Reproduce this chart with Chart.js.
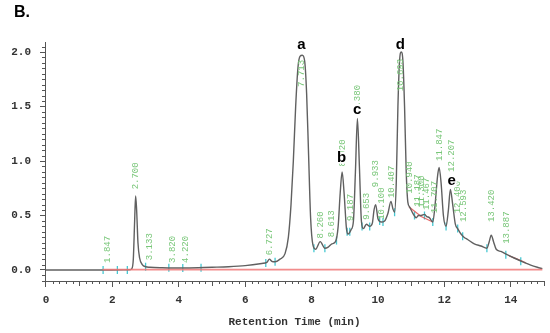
<!DOCTYPE html>
<html>
<head>
<meta charset="utf-8">
<script src="https://cdn.jsdelivr.net/npm/chart.js@4/dist/chart.umd.min.js"></script>
<style>
  html, body { margin: 0; padding: 0; background: #fff; }
  #chrom { display: block; }
</style>
</head>
<body>
<canvas id="chrom" width="550" height="333"></canvas>
<script>
// chromatogram trace (retention time in min, absorbance)
const rtMin = [0.0, 1.0, 2.0, 2.5, 2.58, 2.63, 2.67, 2.70, 2.73, 2.77, 2.82, 2.9, 3.0, 3.13, 3.5, 3.82, 4.22, 5.0, 5.5, 6.0, 6.5, 6.65, 6.73, 6.8, 6.9, 7.05, 7.2, 7.3, 7.38, 7.45, 7.52, 7.59, 7.65, 7.72, 7.79, 7.85, 7.91, 7.97, 8.04, 8.12, 8.26, 8.4, 8.5, 8.61, 8.72, 8.8, 8.86, 8.92, 8.98, 9.05, 9.1, 9.19, 9.26, 9.32, 9.38, 9.44, 9.5, 9.56, 9.65, 9.75, 9.83, 9.88, 9.93, 10.0, 10.1, 10.2, 10.3, 10.39, 10.45, 10.5, 10.55, 10.6, 10.65, 10.7, 10.75, 10.8, 10.85, 10.9, 10.95, 11.05, 11.15, 11.22, 11.3, 11.4, 11.47, 11.55, 11.65, 11.72, 11.79, 11.84, 11.9, 11.97, 12.05, 12.12, 12.18, 12.25, 12.33, 12.4, 12.5, 12.59, 12.7, 12.9, 13.1, 13.28, 13.35, 13.41, 13.48, 13.56, 13.7, 13.89, 14.1, 14.4, 14.6, 14.8, 14.95];
const signal = [0.0, 0.0, 0.0, 0.002, 0.01, 0.1, 0.45, 0.68, 0.55, 0.25, 0.11, 0.05, 0.03, 0.025, 0.02, 0.018, 0.018, 0.025, 0.03, 0.04, 0.06, 0.07, 0.1, 0.08, 0.075, 0.1, 0.15, 0.3, 0.6, 1.0, 1.5, 1.86, 1.96, 1.97, 1.92, 1.62, 1.05, 0.48, 0.23, 0.19, 0.26, 0.2, 0.21, 0.24, 0.26, 0.4, 0.7, 0.9, 0.7, 0.38, 0.33, 0.37, 0.45, 0.9, 1.39, 0.95, 0.45, 0.38, 0.42, 0.4, 0.43, 0.55, 0.6, 0.47, 0.44, 0.45, 0.52, 0.63, 0.56, 0.53, 0.8, 1.5, 1.92, 2.0, 1.92, 1.5, 0.9, 0.62, 0.58, 0.52, 0.48, 0.5, 0.5, 0.51, 0.49, 0.48, 0.44, 0.6, 0.85, 0.94, 0.8, 0.5, 0.4, 0.55, 0.74, 0.6, 0.42, 0.38, 0.33, 0.3, 0.28, 0.24, 0.22, 0.2, 0.26, 0.32, 0.26, 0.19, 0.17, 0.14, 0.11, 0.07, 0.045, 0.025, 0.012];

// integration baseline and baseline segments drawn on the trace
const baseX = [1.7, 14.95];
const baseY = [0.003, 0.003];
const segX = [10.93, 11.3, 11.65, 12.5, 13.95, 14.2, 14.45];
const segY = [0.58, 0.49, 0.44, null, 0.13, 0.1, 0.065];

// peak start/end marks
const markTimes = [1.72, 2.15, 2.45, 3.0, 3.7, 4.12, 4.67, 6.62, 6.9, 8.07, 8.4, 8.75, 9.07, 9.15, 9.52, 9.75, 10.05, 10.15, 10.5, 11.1, 11.4, 11.65, 12.05, 12.4, 12.55, 13.28, 13.85, 14.3];
const markLevels = [0.0, 0.0, 0.0, 0.03, 0.02, 0.018, 0.02, 0.065, 0.075, 0.2, 0.2, 0.27, 0.35, 0.35, 0.4, 0.4, 0.45, 0.44, 0.53, 0.5, 0.5, 0.44, 0.4, 0.38, 0.31, 0.2, 0.14, 0.08];

// retention time tags and the level where each tag starts
const peakTags = ["1.847", "2.700", "3.133", "3.820", "4.220", "6.727", "7.713", "8.260", "8.613", "8.920", "9.187", "9.380", "9.653", "9.933", "10.100", "10.407", "10.693", "10.940", "11.187", "11.300", "11.467", "11.707", "11.847", "12.207", "12.400", "12.593", "13.420", "13.887"];
const tagBase = [0.065, 0.74, 0.09, 0.065, 0.065, 0.135, 1.68, 0.29, 0.3, 0.95, 0.45, 1.45, 0.46, 0.76, 0.46, 0.66, 1.64, 0.7, 0.58, 0.57, 0.55, 0.52, 1.0, 0.9, 0.52, 0.44, 0.44, 0.24];

// named peaks
const peakNames = ["a", "b", "c", "d", "e"];
const nameX = [7.69, 8.9, 9.37, 10.67, 12.22];
const nameY = [2.07, 1.03, 1.47, 2.07, 0.82];

const xTickVals = [0, 2, 4, 6, 8, 10, 12, 14];
const yTickVals = [0.0, 0.5, 1.0, 1.5, 2.0];

const axisColor = "#555";
const monoFont = "'Liberation Mono', 'DejaVu Sans Mono', monospace";

const overlay = {
  id: "overlay",
  afterDatasetsDraw(chart) {
    const { ctx, scales: { x, y } } = chart;
    ctx.save();
    // green retention time tags, reading bottom to top
    ctx.fillStyle = "rgb(120,198,120)";
    ctx.font = "9px " + monoFont;
    ctx.textAlign = "left";
    ctx.textBaseline = "middle";
    peakTags.forEach((t, i) => {
      ctx.save();
      ctx.translate(x.getPixelForValue(Number(t)), y.getPixelForValue(tagBase[i]));
      ctx.rotate(-Math.PI / 2);
      ctx.fillText(t, 0, 0);
      ctx.restore();
    });
    // peak letters
    ctx.font = "bold 15px 'Liberation Sans', Arial, sans-serif";
    ctx.textAlign = "center";
    peakNames.forEach((n, i) => {
      const px = x.getPixelForValue(nameX[i]);
      const py = y.getPixelForValue(nameY[i]);
      ctx.fillStyle = "#fff";
      ctx.fillRect(px - 5, py - 6, 10, 12);
      ctx.fillStyle = "#000";
      ctx.fillText(n, px, py);
    });
    ctx.restore();
  },
  afterDraw(chart) {
    const { ctx, scales: { x, y }, chartArea } = chart;
    ctx.save();
    ctx.strokeStyle = axisColor;
    ctx.lineWidth = 1;
    ctx.beginPath();
    // minor ticks on x
    for (let k = 0; k <= 75; k++) {
      if (k % 10 === 0) continue;
      const px = Math.round(x.getPixelForValue(k * 0.2)) + 0.5;
      const len = k % 5 === 0 ? 5 : 3;
      ctx.moveTo(px, chartArea.bottom);
      ctx.lineTo(px, chartArea.bottom + len);
    }
    // minor ticks on y
    for (let k = -2; k <= 41; k++) {
      if (k % 10 === 0) continue;
      const py = Math.round(y.getPixelForValue(k * 0.05)) + 0.5;
      ctx.moveTo(chartArea.left, py);
      ctx.lineTo(chartArea.left - 3, py);
    }
    ctx.stroke();

    ctx.fillStyle = "#333";
    ctx.font = "bold 11px " + monoFont;
    ctx.textAlign = "center";
    ctx.textBaseline = "middle";
    ctx.fillText("Retention Time (min)", (chartArea.left + chartArea.right) / 2, 322);

    ctx.fillStyle = "#000";
    ctx.font = "bold 16px 'Liberation Sans', Arial, sans-serif";
    ctx.textAlign = "left";
    ctx.fillText("B.", 14, 13);
    ctx.restore();
  }
};

new Chart(document.getElementById("chrom"), {
  type: "line",
  data: {
    datasets: [
      {
        label: "baseline",
        data: baseX.map((v, i) => ({ x: v, y: baseY[i] })),
        borderColor: "rgba(240,120,120,0.85)",
        borderWidth: 1.8,
        pointRadius: 0
      },
      {
        label: "trace",
        data: rtMin.map((v, i) => ({ x: v, y: signal[i] })),
        borderColor: "#606060",
        borderWidth: 1.4,
        pointRadius: 0,
        cubicInterpolationMode: "monotone"
      },
      {
        label: "segments",
        data: segX.map((v, i) => ({ x: v, y: segY[i] })),
        borderColor: "rgba(225,80,80,0.85)",
        borderWidth: 1.2,
        pointRadius: 0,
        spanGaps: false
      },
      {
        label: "marks",
        data: markTimes.map((v, i) => ({ x: v, y: markLevels[i] })),
        showLine: false,
        pointStyle: "line",
        rotation: 90,
        pointRadius: 4,
        borderColor: "rgb(70,200,210)",
        pointBorderWidth: 1.3
      }
    ]
  },
  options: {
    responsive: false,
    animation: false,
    events: [],
    layout: { padding: { top: 42, right: 6, left: 0, bottom: 0 } },
    plugins: { legend: { display: false }, tooltip: { enabled: false } },
    scales: {
      x: {
        type: "linear",
        min: -0.03,
        max: 15.0,
        afterBuildTicks(scale) { scale.ticks = xTickVals.map(v => ({ value: v })); },
        afterFit(scale) { scale.height = 52; },
        grid: { drawOnChartArea: false, drawTicks: true, tickLength: 6, color: axisColor },
        border: { display: true, color: axisColor, width: 1 },
        ticks: { color: "#333", padding: 7, maxRotation: 0, font: { family: monoFont, size: 11, weight: "bold" } }
      },
      y: {
        type: "linear",
        min: -0.101,
        max: 2.092,
        afterBuildTicks(scale) { scale.ticks = yTickVals.map(v => ({ value: v })); },
        afterFit(scale) { scale.width = 45; },
        grid: { drawOnChartArea: false, drawTicks: true, tickLength: 5, color: axisColor },
        border: { display: true, color: axisColor, width: 1 },
        ticks: { color: "#333", padding: 9, font: { family: monoFont, size: 11, weight: "bold" }, callback: v => v.toFixed(1) }
      }
    }
  },
  plugins: [overlay]
});
</script>
</body>
</html>
